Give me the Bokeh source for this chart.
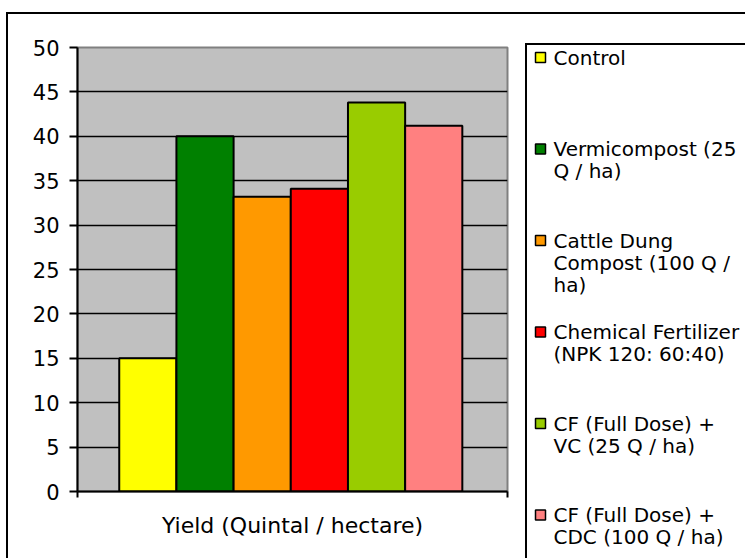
from bokeh.plotting import figure
from bokeh.models import Range1d, FixedTicker, ColumnDataSource, Div
from bokeh.embed import file_html
from bokeh.resources import INLINE
from bokeh.core.properties import value

# ---- data ----
treatments = [
    "Control",
    "Vermicompost (25 Q / ha)",
    "Cattle Dung Compost  (100 Q / ha)",
    "Chemical Fertilizer (NPK 120: 60:40)",
    "CF (Full Dose) + VC (25 Q / ha)",
    "CF (Full Dose) + CDC (100 Q / ha)",
]
legend_lines = [
    [" Control"],
    [" Vermicompost (25", "Q / ha)"],
    [" Cattle Dung", "Compost  (100 Q /", "ha)"],
    [" Chemical Fertilizer", "(NPK 120: 60:40)"],
    [" CF (Full Dose) +", "VC (25 Q / ha)"],
    [" CF (Full Dose) +", "CDC (100 Q / ha)"],
]
yields = [15.0, 40.0, 33.2, 34.1, 43.8, 41.2]
colors = ["#FFFF00", "#008000", "#FF9900", "#FF0000", "#99CC00", "#FF8080"]
y_ticks = [0, 5, 10, 15, 20, 25, 30, 35, 40, 45, 50]
x_label = "Yield (Quintal / hectare)"

FONT = "DejaVu Sans"
OX, OY = 8, 14          # page offset of the chart
W, H = 737, 544
B_LEFT, B_RIGHT, B_TOP, B_BOTTOM = 69, 238, 33, 67


def place(left, top):
    return {"position": "absolute", "left": f"{left}px", "top": f"{top}px"}


def edge(left, top, width, height):
    return Div(text="", width=width, height=height, margin=0,
               styles={**place(left, top), "background-color": "black"})


# ---- main chart ----
idx = list(range(len(yields)))
src = ColumnDataSource(dict(x=idx, top=yields, color=colors, name=treatments))
x_lo, x_hi = -1.23, 6.29
p = figure(width=W, height=H, x_range=Range1d(x_lo, x_hi), y_range=Range1d(0, 50),
           output_backend="svg", toolbar_location=None,
           min_border_left=B_LEFT, min_border_right=B_RIGHT,
           min_border_top=B_TOP, min_border_bottom=B_BOTTOM,
           margin=0, styles=place(OX, OY))
p.background_fill_color = "#C0C0C0"
p.border_fill_color = "white"
p.outline_line_color = "#808080"
p.outline_line_width = 2

p.vbar(x="x", top="top", bottom=0, width=1.0, fill_color="color", line_color="black",
       line_width=2, source=src)

p.xgrid.visible = False
p.ygrid.ticker = FixedTicker(ticks=y_ticks)
p.ygrid.grid_line_color = "black"
p.ygrid.grid_line_width = 1.5

ya = p.yaxis[0]
ya.ticker = FixedTicker(ticks=y_ticks)
ya.axis_line_width = 2
ya.axis_line_color = "black"
ya.major_tick_line_width = 2
ya.major_tick_line_color = "black"
ya.major_tick_out = 8
ya.major_tick_in = 0
ya.minor_tick_line_color = None
ya.major_label_text_font = FONT
ya.major_label_text_font_size = "21px"
ya.major_label_text_color = "black"
ya.major_label_standoff = 10

xa = p.xaxis[0]
xa.ticker = FixedTicker(ticks=[x_lo, x_hi])
xa.major_label_overrides = {x_lo: "", x_hi: ""}
xa.major_label_text_font_size = "1px"
xa.major_label_standoff = 0
xa.axis_line_width = 2
xa.axis_line_color = "black"
xa.major_tick_line_width = 2
xa.major_tick_line_color = "black"
xa.major_tick_out = 6
xa.major_tick_in = 0
xa.minor_tick_line_color = None
xa.axis_label = x_label
xa.axis_label_text_font = FONT
xa.axis_label_text_font_size = "22px"
xa.axis_label_text_font_style = "normal"
xa.axis_label_text_color = "black"
xa.axis_label_standoff = 15

# ---- legend panel (pixel-unit ranges, y grows downward) ----
LX = 518
LW, LH = OX + W - LX, H
lg = figure(width=LW, height=LH, x_range=Range1d(0, LW), y_range=Range1d(LH, 0),
            output_backend="svg", toolbar_location=None,
            min_border=0, min_border_left=0, min_border_right=0,
            min_border_top=0, min_border_bottom=0,
            margin=0, styles=place(LX, OY))
lg.axis.visible = False
lg.grid.visible = False
lg.outline_line_color = None
lg.background_fill_color = "white"
lg.border_fill_color = "white"

first_y, step, line_h = 57 - OY, 91.5, 22
sq_x0, text_x0 = 540 - LX, 553 - LX
sq_x, sq_y, sq_c = [], [], []
tx, ty, tt = [], [], []
for i, lines in enumerate(legend_lines):
    y0 = first_y + i * step
    sq_x.append(sq_x0)
    sq_y.append(y0)
    sq_c.append(colors[i])
    for j, t in enumerate(lines):
        tx.append(text_x0)
        ty.append(y0 + j * line_h)
        tt.append(t)
lg.rect(x=sq_x, y=sq_y, width=10, height=10, fill_color=sq_c, line_color="black", line_width=1.5)
lg.text(x=tx, y=ty, text=tt, text_baseline="middle", text_align="left",
        text_font=value(FONT), text_font_size="20px", text_color="black")

# ---- frame lines: outer chart border and legend box (left and top edges;
#      their other edges lie outside the window) ----
edges = [
    edge(OX - 2, OY - 2, 2, 558 - (OY - 2)),          # chart border, left
    edge(OX - 2, OY - 2, 745 - (OX - 2), 2),          # chart border, top
    edge(525, 43, 2, 558 - 43),                       # legend box, left
    edge(525, 43, 745 - 525, 2),                      # legend box, top
]

open("out.html", "w").write(file_html([p, lg] + edges, INLINE))
